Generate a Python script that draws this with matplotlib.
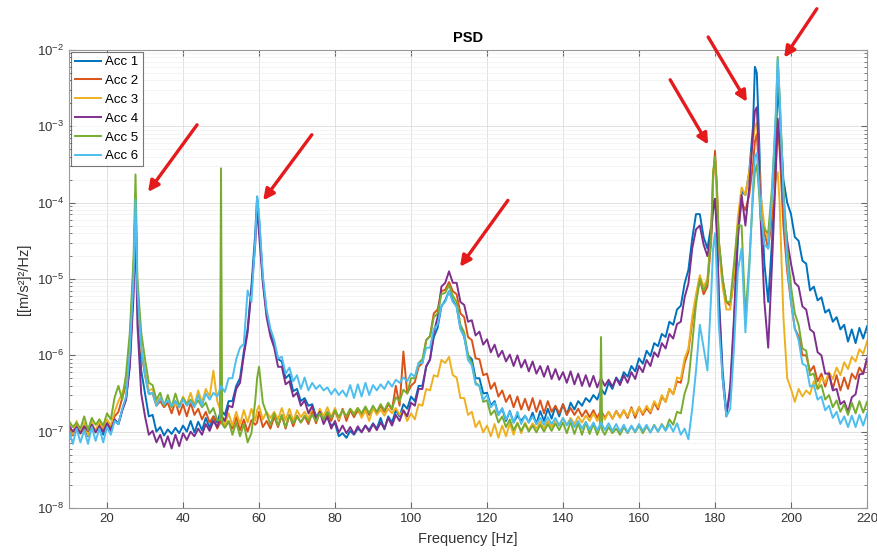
import matplotlib
matplotlib.use('Agg')
import numpy as np
import matplotlib.pyplot as plt

plt.rcParams.update({'font.family': ['Liberation Sans', 'DejaVu Sans'], 'font.size': 10})

# 1 Hz grid from 10 to 220 Hz, values are log10 of the PSD
freq = np.arange(10, 221)
# extra points around the sharp resonances
peak_freq = [27.5, 59.5, 179.5, 180.5, 190.5, 191.5, 196.5]

acc1 = [
    -6.92, -7.03, -6.90, -7.02, -6.95, -7.06, -6.93, -7.00, -6.91, -7.04,
    -6.87, -6.99, -6.84, -6.90, -6.72, -6.58, -6.10, -5.00, -5.30, -6.20,
    -6.50, -6.80, -6.78, -7.00, -6.94, -7.05, -6.97, -7.03, -6.95, -7.02,
    -6.92, -7.00, -6.86, -7.01, -6.87, -6.98, -6.82, -6.95, -6.80, -6.88,
    -6.72, -6.78, -6.60, -6.60, -6.40, -6.30, -5.95, -5.65, -5.10, -4.40,
    -4.20, -5.00, -5.45, -5.70, -5.85, -6.05, -6.08, -6.30, -6.25, -6.47,
    -6.44, -6.60, -6.56, -6.66, -6.64, -6.80, -6.74, -6.84, -6.82, -6.92,
    -6.89, -7.06, -7.02, -7.08, -6.99, -7.04, -6.96, -7.00, -6.92, -6.98,
    -6.89, -6.96, -6.82, -6.97, -6.80, -6.88, -6.72, -6.80, -6.64, -6.70,
    -6.54, -6.60, -6.40, -6.40, -6.15, -6.05, -5.76, -5.64, -5.36, -5.28,
    -5.16, -5.28, -5.36, -5.64, -5.76, -6.00, -6.05, -6.30, -6.30, -6.50,
    -6.49, -6.66, -6.60, -6.78, -6.70, -6.86, -6.73, -6.88, -6.79, -6.86,
    -6.79, -6.88, -6.75, -6.90, -6.73, -6.86, -6.70, -6.83, -6.67, -6.80,
    -6.64, -6.78, -6.62, -6.71, -6.60, -6.66, -6.56, -6.61, -6.52, -6.58,
    -6.44, -6.51, -6.36, -6.44, -6.29, -6.36, -6.22, -6.28, -6.14, -6.21,
    -6.04, -6.11, -5.94, -6.01, -5.84, -5.88, -5.72, -5.76, -5.56, -5.60,
    -5.40, -5.35, -5.06, -4.88, -4.47, -4.15, -4.15, -4.45, -4.60, -4.30,
    -3.95, -5.20, -6.20, -6.75, -6.50, -5.60, -4.50, -3.85, -3.90, -3.60,
    -3.00, -2.30, -3.80, -4.80, -5.30, -4.50, -3.20, -2.80, -3.70, -4.00,
    -4.15, -4.45, -4.50, -4.76, -4.80, -5.15, -5.10, -5.28, -5.24, -5.44,
    -5.40, -5.56, -5.50, -5.66, -5.60, -5.82, -5.66, -5.84, -5.64, -5.78, -5.62,
]
acc1_peaks = [-4.00, -3.92, -4.00, -4.30, -2.22, -3.00, -2.45]

acc2 = [
    -6.91, -7.05, -6.89, -7.02, -6.96, -7.01, -6.92, -6.98, -6.90, -6.97,
    -6.85, -6.93, -6.80, -6.74, -6.56, -6.38, -5.90, -4.90, -5.20, -5.95,
    -6.26, -6.50, -6.50, -6.66, -6.60, -6.68, -6.62, -6.76, -6.60, -6.78,
    -6.64, -6.80, -6.62, -6.78, -6.70, -6.84, -6.74, -6.88, -6.80, -6.96,
    -6.86, -6.94, -6.87, -6.96, -6.81, -6.98, -6.84, -7.00, -6.85, -6.91,
    -6.74, -6.94, -6.86, -6.96, -6.80, -6.94, -6.79, -6.96, -6.78, -6.93,
    -6.79, -6.88, -6.80, -6.90, -6.74, -6.89, -6.74, -6.84, -6.76, -6.86,
    -6.72, -6.86, -6.70, -6.86, -6.72, -6.81, -6.72, -6.80, -6.70, -6.78,
    -6.68, -6.76, -6.66, -6.74, -6.64, -6.71, -6.40, -6.66, -5.95, -6.50,
    -6.40, -6.35, -6.15, -6.10, -5.80, -5.75, -5.45, -5.40, -5.16, -5.14,
    -5.04, -5.16, -5.20, -5.45, -5.50, -5.76, -5.80, -6.04, -6.05, -6.26,
    -6.24, -6.44, -6.36, -6.54, -6.46, -6.61, -6.52, -6.68, -6.54, -6.71,
    -6.57, -6.72, -6.56, -6.74, -6.59, -6.76, -6.60, -6.74, -6.66, -6.76,
    -6.64, -6.78, -6.69, -6.78, -6.70, -6.80, -6.72, -6.81, -6.72, -6.82,
    -6.72, -6.82, -6.74, -6.83, -6.73, -6.81, -6.72, -6.82, -6.68, -6.82,
    -6.68, -6.78, -6.69, -6.76, -6.62, -6.71, -6.54, -6.61, -6.44, -6.51,
    -6.34, -6.36, -6.10, -5.95, -5.56, -5.28, -5.00, -5.20, -5.10, -4.50,
    -3.32, -4.50, -5.00, -5.30, -5.35, -5.00, -4.40, -4.00, -4.10, -3.90,
    -3.50, -3.10, -4.00, -4.40, -4.60, -4.20, -3.50, -3.30, -4.30, -4.90,
    -5.30, -5.65, -5.75, -6.00, -6.00, -6.21, -6.14, -6.34, -6.24, -6.41,
    -6.24, -6.44, -6.26, -6.46, -6.29, -6.44, -6.24, -6.31, -6.16, -6.24, -6.06,
]
acc2_peaks = [-4.00, -6.88, -3.70, -3.80, -3.20, -3.50, -3.00]

acc3 = [
    -6.89, -7.03, -6.86, -7.03, -6.88, -7.05, -6.87, -7.01, -6.84, -7.00,
    -6.84, -6.92, -6.74, -6.60, -6.50, -6.34, -5.85, -4.80, -5.15, -5.90,
    -6.20, -6.46, -6.44, -6.61, -6.56, -6.64, -6.59, -6.66, -6.64, -6.68,
    -6.54, -6.64, -6.49, -6.66, -6.46, -6.62, -6.44, -6.54, -6.20, -6.60,
    -6.74, -6.91, -6.76, -6.92, -6.74, -6.90, -6.72, -6.88, -6.70, -6.86,
    -6.66, -6.84, -6.74, -6.82, -6.74, -6.84, -6.69, -6.85, -6.70, -6.86,
    -6.72, -6.81, -6.74, -6.83, -6.68, -6.85, -6.70, -6.80, -6.68, -6.81,
    -6.69, -6.84, -6.72, -6.80, -6.70, -6.76, -6.69, -6.82, -6.72, -6.86,
    -6.69, -6.78, -6.71, -6.79, -6.70, -6.76, -6.69, -6.78, -6.72, -6.86,
    -6.76, -6.84, -6.64, -6.66, -6.44, -6.46, -6.26, -6.28, -6.06, -6.10,
    -6.02, -6.26, -6.29, -6.56, -6.56, -6.78, -6.74, -6.94, -6.86, -7.01,
    -6.92, -7.06, -6.90, -7.08, -6.92, -7.06, -6.89, -7.04, -6.88, -7.02,
    -6.88, -6.98, -6.89, -6.96, -6.87, -6.96, -6.86, -6.94, -6.84, -6.92,
    -6.82, -6.91, -6.82, -6.90, -6.80, -6.88, -6.79, -6.86, -6.76, -6.86,
    -6.76, -6.84, -6.74, -6.83, -6.74, -6.82, -6.72, -6.80, -6.70, -6.78,
    -6.68, -6.76, -6.66, -6.74, -6.60, -6.68, -6.52, -6.61, -6.44, -6.51,
    -6.29, -6.31, -6.04, -5.91, -5.50, -5.20, -4.95, -5.10, -5.00, -4.40,
    -3.45, -4.60, -5.10, -5.40, -5.40, -4.90, -4.20, -3.80, -3.90, -3.60,
    -3.20, -2.95, -3.90, -4.30, -4.50, -4.00, -3.70, -4.00, -5.50, -6.30,
    -6.44, -6.61, -6.44, -6.54, -6.46, -6.51, -6.34, -6.44, -6.29, -6.36,
    -6.22, -6.31, -6.16, -6.26, -6.09, -6.18, -6.02, -6.08, -5.92, -5.98, -5.82,
]
acc3_peaks = [-3.90, -6.72, -3.60, -3.90, -3.00, -3.30, -3.60]

acc4 = [
    -6.92, -7.00, -6.94, -7.02, -6.93, -6.99, -6.91, -7.01, -6.93, -7.00,
    -6.89, -6.98, -6.84, -6.90, -6.72, -6.58, -6.15, -5.20, -5.60, -6.50,
    -6.80, -7.04, -6.99, -7.14, -7.04, -7.20, -7.06, -7.22, -7.04, -7.19,
    -7.02, -7.11, -7.00, -7.06, -6.96, -7.04, -6.90, -6.99, -6.86, -6.94,
    -6.79, -6.86, -6.66, -6.68, -6.44, -6.36, -6.00, -5.70, -5.15, -4.55,
    -4.40, -5.05, -5.50, -5.75, -5.90, -6.15, -6.15, -6.38, -6.34, -6.54,
    -6.49, -6.66, -6.59, -6.76, -6.66, -6.84, -6.74, -6.90, -6.80, -6.96,
    -6.86, -7.01, -6.92, -7.02, -6.94, -7.03, -6.93, -7.01, -6.92, -7.00,
    -6.90, -6.98, -6.88, -6.96, -6.82, -6.92, -6.78, -6.86, -6.72, -6.80,
    -6.62, -6.66, -6.44, -6.44, -6.14, -6.06, -5.70, -5.50, -5.10, -5.05,
    -4.90, -5.05, -5.05, -5.30, -5.34, -5.56, -5.54, -5.74, -5.69, -5.86,
    -5.79, -5.96, -5.86, -6.02, -5.94, -6.08, -5.99, -6.14, -6.00, -6.16,
    -6.06, -6.21, -6.08, -6.24, -6.14, -6.28, -6.14, -6.31, -6.18, -6.32,
    -6.22, -6.36, -6.21, -6.38, -6.24, -6.40, -6.26, -6.41, -6.27, -6.42,
    -6.30, -6.40, -6.32, -6.41, -6.30, -6.39, -6.26, -6.36, -6.22, -6.31,
    -6.14, -6.22, -6.06, -6.14, -5.96, -6.02, -5.84, -5.91, -5.72, -5.78,
    -5.59, -5.56, -5.24, -5.06, -4.60, -4.35, -4.30, -4.55, -4.70, -4.40,
    -3.95, -5.30, -6.30, -6.80, -6.40, -5.50, -4.40, -3.90, -4.30, -3.80,
    -3.10, -2.75, -4.20, -5.30, -5.90, -4.80, -3.60, -3.20, -4.00, -4.50,
    -4.80, -5.05, -5.10, -5.36, -5.40, -5.66, -5.70, -5.96, -6.00, -6.24,
    -6.24, -6.46, -6.44, -6.64, -6.60, -6.74, -6.55, -6.51, -6.25, -6.24, -6.04,
]
acc4_peaks = [-4.30, -4.05, -4.10, -4.40, -2.80, -3.30, -2.90]

acc5 = [
    -6.86, -6.94, -6.88, -6.96, -6.80, -6.98, -6.82, -6.91, -6.84, -6.92,
    -6.76, -6.84, -6.55, -6.40, -6.58, -6.25, -5.70, -4.70, -5.00, -5.70,
    -6.05, -6.36, -6.39, -6.58, -6.49, -6.66, -6.52, -6.68, -6.50, -6.66,
    -6.56, -6.64, -6.58, -6.66, -6.59, -6.68, -6.62, -6.76, -6.69, -6.85,
    -3.55, -6.95, -6.86, -7.04, -6.88, -7.06, -6.90, -7.14, -7.02, -6.60,
    -6.15, -6.62, -6.76, -6.91, -6.76, -6.92, -6.78, -6.94, -6.79, -6.89,
    -6.80, -6.88, -6.79, -6.86, -6.78, -6.86, -6.76, -6.84, -6.74, -6.82,
    -6.72, -6.81, -6.72, -6.80, -6.70, -6.78, -6.69, -6.76, -6.67, -6.76,
    -6.66, -6.74, -6.64, -6.72, -6.62, -6.70, -6.55, -6.60, -6.45, -6.50,
    -6.30, -6.30, -6.10, -6.05, -5.80, -5.75, -5.50, -5.45, -5.20, -5.18,
    -5.08, -5.22, -5.30, -5.60, -5.70, -6.00, -6.10, -6.36, -6.40, -6.61,
    -6.59, -6.78, -6.72, -6.88, -6.80, -6.94, -6.84, -6.98, -6.89, -6.99,
    -6.90, -7.00, -6.92, -7.01, -6.91, -7.00, -6.90, -6.99, -6.89, -6.98,
    -6.88, -7.02, -6.87, -7.03, -6.89, -7.04, -6.88, -7.03, -6.90, -7.04,
    -5.76, -7.04, -6.94, -7.02, -6.96, -7.04, -6.94, -7.02, -6.93, -7.01,
    -6.92, -7.02, -6.93, -7.01, -6.91, -7.00, -6.90, -6.98, -6.84, -6.91,
    -6.74, -6.76, -6.50, -6.35, -5.85, -5.33, -5.00, -5.15, -5.05, -4.40,
    -3.40, -4.50, -5.00, -5.30, -5.30, -4.80, -4.30, -4.30, -5.50, -4.80,
    -3.90, -3.50, -4.20, -4.35, -4.40, -3.80, -2.90, -2.60, -3.80, -4.60,
    -5.10, -5.45, -5.60, -5.91, -5.94, -6.26, -6.24, -6.44, -6.39, -6.58,
    -6.52, -6.68, -6.59, -6.74, -6.64, -6.78, -6.62, -6.76, -6.60, -6.75, -6.61,
]
acc5_peaks = [-3.63, -6.30, -3.60, -3.80, -3.60, -3.80, -2.09]
# narrow line-frequency spikes on Acc 5 (50 Hz and 150 Hz)
acc5_spike_freq = [49.7, 50.3, 149.7, 150.3]
acc5_spikes = [-6.85, -6.90, -6.95, -6.98]

acc6 = [
    -6.99, -7.16, -6.96, -7.14, -6.98, -7.16, -6.94, -7.12, -6.96, -7.14,
    -6.94, -7.04, -6.86, -6.90, -6.70, -6.54, -5.95, -4.95, -5.15, -5.90,
    -6.25, -6.51, -6.49, -6.66, -6.56, -6.64, -6.59, -6.66, -6.60, -6.68,
    -6.58, -6.66, -6.60, -6.68, -6.52, -6.66, -6.50, -6.58, -6.49, -6.54,
    -6.40, -6.48, -6.30, -6.30, -6.05, -5.90, -5.85, -5.15, -5.30, -4.50,
    -4.15, -4.95, -5.40, -5.65, -5.80, -6.04, -6.02, -6.24, -6.16, -6.34,
    -6.26, -6.44, -6.29, -6.46, -6.36, -6.44, -6.39, -6.46, -6.42, -6.51,
    -6.44, -6.52, -6.46, -6.54, -6.39, -6.56, -6.38, -6.54, -6.36, -6.52,
    -6.39, -6.46, -6.38, -6.44, -6.34, -6.41, -6.32, -6.36, -6.29, -6.34,
    -6.24, -6.28, -6.10, -6.10, -5.90, -5.90, -5.65, -5.60, -5.35, -5.30,
    -5.16, -5.30, -5.36, -5.66, -5.75, -6.06, -6.13, -6.38, -6.40, -6.58,
    -6.52, -6.68, -6.62, -6.78, -6.69, -6.84, -6.74, -6.88, -6.74, -6.90,
    -6.79, -6.88, -6.80, -6.90, -6.82, -6.91, -6.81, -6.90, -6.82, -6.92,
    -6.82, -6.92, -6.84, -6.94, -6.86, -6.96, -6.87, -6.97, -6.88, -6.98,
    -6.88, -6.98, -6.89, -6.99, -6.90, -7.00, -6.91, -7.01, -6.92, -7.00,
    -6.90, -6.99, -6.91, -7.01, -6.92, -7.00, -6.91, -6.99, -6.90, -7.00,
    -6.89, -7.04, -6.96, -7.10, -6.70, -6.20, -5.60, -5.90, -6.20, -5.20,
    -4.40, -5.60, -6.30, -6.80, -6.70, -5.90, -4.90, -4.60, -5.70, -4.90,
    -3.80, -3.35, -4.10, -4.55, -4.60, -3.90, -2.80, -2.60, -3.90, -4.80,
    -5.30, -5.65, -5.80, -6.11, -6.14, -6.41, -6.39, -6.58, -6.54, -6.72,
    -6.66, -6.82, -6.74, -6.90, -6.80, -6.94, -6.79, -6.94, -6.78, -6.92, -6.76,
]
acc6_peaks = [-3.96, -3.92, -4.60, -4.90, -3.40, -3.70, -2.12]

labels = ['Acc 1', 'Acc 2', 'Acc 3', 'Acc 4', 'Acc 5', 'Acc 6']
colors = ['#0072BD', '#D95319', '#EDB120', '#7E2F8E', '#77AC30', '#4DBEEE']

# arrows marking the resonances: (tail f, tail log10, head f, head log10)
arrows = [
    (43.7, -2.98, 30.8, -3.86),
    (73.9, -3.11, 61.1, -3.97),
    (125.5, -3.97, 112.9, -4.84),
    (168.2, -2.39, 178.2, -3.24),
    (178.2, -1.83, 188.4, -2.68),
    (206.8, -1.46, 198.2, -2.10),
]


def merge(base, peaks, extra_f=(), extra_v=()):
    f = np.concatenate([freq, peak_freq, extra_f])
    v = np.concatenate([base, peaks, extra_v])
    order = np.argsort(f)
    return f[order], 10.0 ** v[order]


series = [
    merge(acc1, acc1_peaks),
    merge(acc2, acc2_peaks),
    merge(acc3, acc3_peaks),
    merge(acc4, acc4_peaks),
    merge(acc5, acc5_peaks, acc5_spike_freq, acc5_spikes),
    merge(acc6, acc6_peaks),
]

fig = plt.figure(figsize=(8.77, 5.58), dpi=100)
ax = fig.add_axes([0.0787, 0.0896, 0.9099, 0.8208])

for (f, p), lab, c in zip(series, labels, colors):
    ax.plot(f, p, color=c, lw=1.4, label=lab)

ax.set_yscale('log')
ax.set_xlim(10, 220)
ax.set_ylim(1e-8, 1e-2)
ax.set_xticks(np.arange(20, 221, 20))

ax.set_axisbelow(True)
ax.grid(True, which='major', color='#dcdcdc', lw=0.6)
ax.grid(True, which='minor', axis='y', color='#f0f0f0', lw=0.5)
ax.tick_params(which='both', direction='in', top=True, right=True,
               color='#666666', labelcolor='#333333', labelsize=9.5)
ax.tick_params(which='major', length=4)
ax.tick_params(which='minor', length=2.5)
for s in ax.spines.values():
    s.set_color('#999999')

ax.set_title('PSD', fontweight='bold', fontsize=10.5, pad=6)
ax.set_xlabel('Frequency [Hz]', fontsize=10.5, color='#333333', labelpad=5)
ax.set_ylabel('[[m/s²]²/Hz]', fontsize=10.5, color='#333333', labelpad=4)

leg = ax.legend(loc='upper left', fontsize=9.5, handlelength=2.0,
                labelspacing=0.5, borderaxespad=0.15, fancybox=False,
                borderpad=0.3, handletextpad=0.3)
leg.get_frame().set_edgecolor('#555555')
leg.get_frame().set_linewidth(0.8)

for tf, tl, hf, hl in arrows:
    ax.annotate('', xy=(hf, 10 ** hl), xytext=(tf, 10 ** tl),
                arrowprops=dict(arrowstyle='-|>', color='#e41a1c', lw=2.4,
                                mutation_scale=16, shrinkA=0, shrinkB=0),
                annotation_clip=False)

fig.savefig('out.png', dpi=100)
